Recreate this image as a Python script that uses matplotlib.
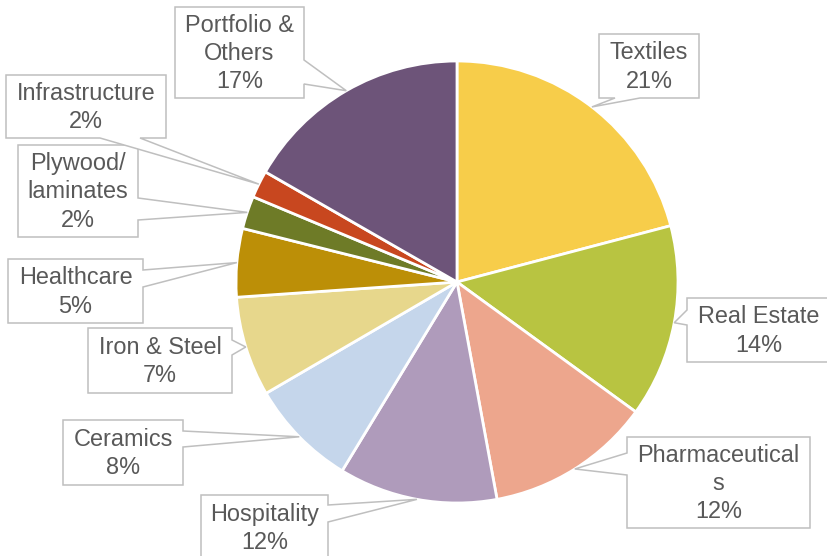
import matplotlib
matplotlib.use('Agg')
import matplotlib.pyplot as plt
from matplotlib.patches import Polygon
import numpy as np

# ---------------------DATA-------------------------------------------
labels = ['Textiles', 'Real Estate', 'Pharmaceutical\ns', 'Hospitality', 'Ceramics',
          'Iron & Steel', 'Healthcare', 'Plywood/\nlaminates', 'Infrastructure',
          'Portfolio &\nOthers']
values = [20.9, 14.1, 12.1, 11.6, 7.9, 7.3, 5.0, 2.4, 2.0, 16.7]
colors = ['#F7CD4A', '#B8C441', '#EDA68D', '#AF9BBB', '#C5D6EB',
          '#E7D78C', '#BC8F07', '#6E7B27', '#C8471F', '#6D5479']
# --------------------------------------------------------------------

W, H = 827, 556
# callout boxes in pixel coords: x0, y0, x1, y1, side of pointer, pointer base (a, b)
boxes = [
    (599, 34, 699, 98, 'bottom', 615, 640),
    (687, 298, 830, 362, 'left', 310, 325),
    (627, 437, 810, 528, 'left', 453, 475),
    (201, 495, 328, 560, 'right', 505, 522),
    (63, 420, 183, 485, 'right', 431, 447),
    (88, 328, 232, 393, 'right', 340, 355),
    (8, 259, 143, 323, 'right', 270, 287),
    (18, 145, 138, 237, 'right', 198, 220),
    (6, 75, 166, 138, 'bottom', 100, 140),
    (175, 7, 304, 98, 'right', 60, 84),
]

cx, cy, r = 457, 282, 221


def Y(y):
    return H - y


fig = plt.figure(figsize=(W / 100, H / 100), dpi=100)
ax = fig.add_axes([0, 0, 1, 1])

wedges, _ = ax.pie(values, colors=colors, startangle=90, counterclock=False,
                   center=(cx, Y(cy)), radius=r,
                   wedgeprops=dict(edgecolor='white', linewidth=2))

for w, lab, v, bx in zip(wedges, labels, values, boxes):
    x0, y0, x1, y1, side, a, b = bx
    mid = np.deg2rad((w.theta1 + w.theta2) / 2)
    tx = cx + r * np.cos(mid)
    ty = cy - r * np.sin(mid)  # back to pixel coords
    pts = [(x0, y0), (x1, y0)]
    if side == 'right':
        pts += [(x1, a), (tx, ty), (x1, b)]
    pts += [(x1, y1)]
    if side == 'bottom':
        pts += [(b, y1), (tx, ty), (a, y1)]
    pts += [(x0, y1)]
    if side == 'left':
        pts += [(x0, b), (tx, ty), (x0, a)]
    poly = Polygon([(p[0], Y(p[1])) for p in pts], closed=True, facecolor='white',
                   edgecolor='#BFBFBF', linewidth=1.1, zorder=3)
    ax.add_patch(poly)
    ax.text((x0 + x1) / 2, Y((y0 + y1) / 2 + 1), f'{lab}\n{round(v)}%', ha='center', va='center',
            multialignment='center', fontsize=16.9, color='#595959',
            family='Liberation Sans', linespacing=1.28, zorder=4)

ax.set_xlim(0, W)
ax.set_ylim(0, H)
ax.set_aspect('equal')
ax.axis('off')
fig.savefig('out.png', dpi=100, facecolor='white')
